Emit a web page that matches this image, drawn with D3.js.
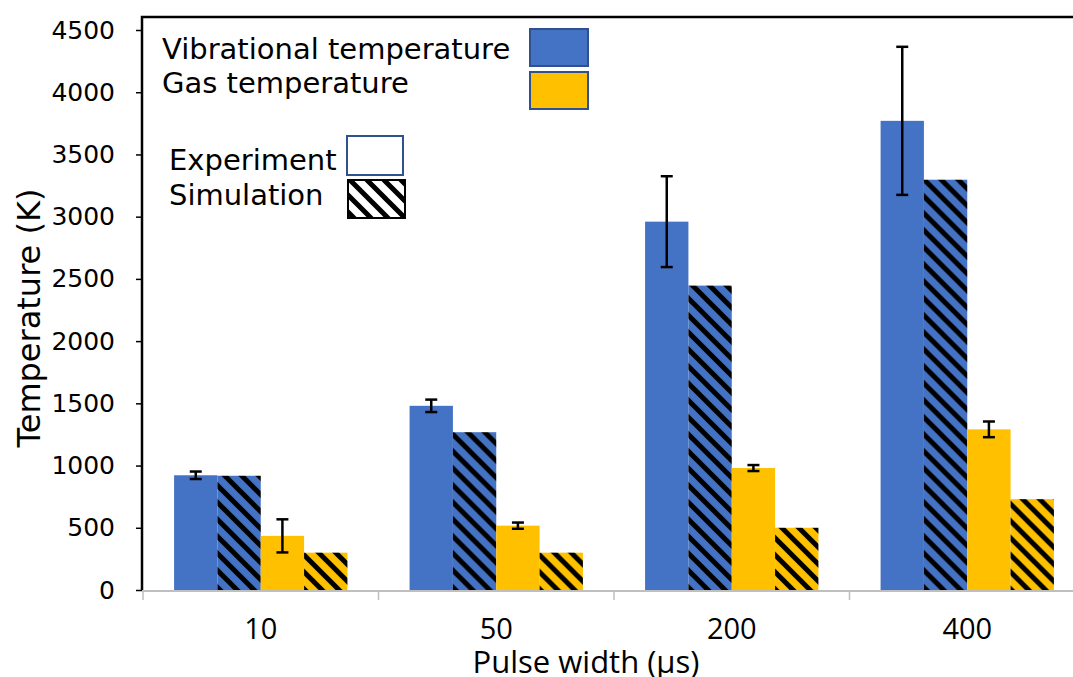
<!DOCTYPE html>
<html>
<head>
<meta charset="utf-8">
<script src="https://cdn.jsdelivr.net/npm/d3@7"></script>
<style>
  html, body { margin: 0; padding: 0; background: #fff; }
  svg { display: block; }
</style>
</head>
<body>
<svg id="chart" width="1073" height="677"></svg>
<script>
// Pulse widths (µs) on the x axis
const categories = ["10", "50", "200", "400"];

// Temperatures (K)
const vibExp    = [922, 1480, 2960, 3770];
const vibExpErr = [30, 50, 365, 595];
const vibSim    = [918, 1268, 2446, 3297];
const gasExp    = [435, 517, 980, 1291];
const gasExpErr = [133, 25, 24, 63];
const gasSim    = [300, 300, 500, 730];

const yTicks = [0, 500, 1000, 1500, 2000, 2500, 3000, 3500, 4000, 4500];

const BLUE = "#4472C4";
const GOLD = "#FFC000";

const series = [
  { key: "vibExp", values: vibExp, err: vibExpErr, color: BLUE, hatched: false },
  { key: "vibSim", values: vibSim, err: null,      color: BLUE, hatched: true  },
  { key: "gasExp", values: gasExp, err: gasExpErr, color: GOLD, hatched: false },
  { key: "gasSim", values: gasSim, err: null,      color: GOLD, hatched: true  }
];

const svg = d3.select("#chart");

// Plot frame
const plotLeft = 142, plotTop = 17, plotBottom = 590, plotRight = 1085;

const x = d3.scaleBand()
  .domain(categories)
  .range([plotLeft + 1, plotRight])
  .paddingInner(0.264)
  .paddingOuter(0.132);

const xs = d3.scaleBand()
  .domain(series.map(s => s.key))
  .range([0, x.bandwidth()]);

const y = d3.scaleLinear().domain([0, 4500]).range([plotBottom, 30]);

// Diagonal hatch patterns
const defs = svg.append("defs");
function hatch(id, bg) {
  const p = defs.append("pattern")
    .attr("id", id)
    .attr("patternUnits", "userSpaceOnUse")
    .attr("width", 17).attr("height", 17);
  p.append("rect").attr("width", 17).attr("height", 17).attr("fill", bg);
  p.append("path")
    .attr("d", "M-3,-3L20,20M-3,14L3,20M14,-3L20,3")
    .attr("stroke", "#000")
    .attr("stroke-width", 5);
}
hatch("hatch-blue", BLUE);
hatch("hatch-gold", GOLD);
hatch("hatch-white", "#fff");

const fillFor = s => s.hatched
  ? (s.color === BLUE ? "url(#hatch-blue)" : "url(#hatch-gold)")
  : s.color;

// Bars
const groups = svg.append("g").selectAll("g")
  .data(categories)
  .join("g")
  .attr("transform", c => `translate(${x(c)},0)`);

groups.selectAll("rect")
  .data((c, i) => series.map(s => ({ s, v: s.values[i] })))
  .join("rect")
  .attr("x", d => xs(d.s.key))
  .attr("y", d => y(d.v))
  .attr("width", xs.bandwidth())
  .attr("height", d => y(0) - y(d.v))
  .attr("fill", d => fillFor(d.s));

// Error bars on measured values
const errData = [];
series.filter(s => s.err).forEach(s => {
  categories.forEach((c, i) => {
    errData.push({ cx: x(c) + xs(s.key) + xs.bandwidth() / 2, v: s.values[i], e: s.err[i] });
  });
});
const eb = svg.append("g").attr("stroke", "#000").attr("stroke-width", 2.5);
eb.selectAll("line.v").data(errData).join("line")
  .attr("x1", d => d.cx).attr("x2", d => d.cx)
  .attr("y1", d => y(d.v + d.e)).attr("y2", d => y(d.v - d.e));
eb.selectAll("line.t").data(errData).join("line")
  .attr("x1", d => d.cx - 6).attr("x2", d => d.cx + 6)
  .attr("y1", d => y(d.v + d.e)).attr("y2", d => y(d.v + d.e));
eb.selectAll("line.b").data(errData).join("line")
  .attr("x1", d => d.cx - 6).attr("x2", d => d.cx + 6)
  .attr("y1", d => y(d.v - d.e)).attr("y2", d => y(d.v - d.e));

// Category axis: gray baseline, boundary ticks, centered labels
const gap = (x.step() - x.bandwidth()) / 2;
svg.append("line")
  .attr("x1", plotLeft).attr("x2", 1073)
  .attr("y1", plotBottom + 1).attr("y2", plotBottom + 1)
  .attr("stroke", "#BFBFBF").attr("stroke-width", 2);
svg.append("g").selectAll("line")
  .data(categories)
  .join("line")
  .attr("x1", c => x(c) - gap).attr("x2", c => x(c) - gap)
  .attr("y1", plotBottom + 1).attr("y2", plotBottom + 10)
  .attr("stroke", "#BFBFBF").attr("stroke-width", 1.5);

const xAxis = svg.append("g")
  .attr("transform", `translate(0,${plotBottom})`)
  .call(d3.axisBottom(x).tickSize(0).tickPadding(28));
xAxis.select(".domain").remove();
xAxis.selectAll("text")
  .attr("font-family", "'Open Sans', sans-serif")
  .attr("font-size", 29)
  .attr("fill", "#000");

// Value axis
const yAxis = svg.append("g")
  .attr("transform", `translate(${plotLeft},0)`)
  .call(d3.axisLeft(y).tickValues(yTicks).tickSize(6).tickPadding(21).tickFormat(d3.format("d")));
yAxis.select(".domain").remove();
yAxis.selectAll("line").attr("stroke", "#000").attr("stroke-width", 1.5);
yAxis.selectAll("text")
  .attr("font-family", "'DejaVu Sans', Verdana, sans-serif")
  .attr("font-size", 25)
  .attr("fill", "#000");

// Frame lines (left and top)
svg.append("path")
  .attr("d", `M${plotLeft},${plotBottom}V${plotTop}H1073`)
  .attr("fill", "none")
  .attr("stroke", "#000")
  .attr("stroke-width", 2.5);

// Axis titles
svg.append("text")
  .attr("transform", "translate(40,318) rotate(-90)")
  .attr("text-anchor", "middle")
  .attr("font-family", "'DejaVu Sans', Verdana, sans-serif")
  .attr("font-size", 32)
  .text("Temperature (K)");

svg.append("text")
  .attr("x", 586).attr("y", 673)
  .attr("text-anchor", "middle")
  .attr("font-family", "'Open Sans', sans-serif")
  .attr("font-size", 31)
  .text("Pulse width (µs)");

// Legend
const legendFont = "'DejaVu Sans', Verdana, sans-serif";
const lg = svg.append("g").attr("font-family", legendFont).attr("font-size", 29).attr("fill", "#000");
lg.append("text").attr("x", 162).attr("y", 59).text("Vibrational temperature");
lg.append("text").attr("x", 162).attr("y", 93).text("Gas temperature");
lg.append("text").attr("x", 169).attr("y", 170).text("Experiment");
lg.append("text").attr("x", 169).attr("y", 205).text("Simulation");

svg.append("rect").attr("x", 530).attr("y", 29).attr("width", 58).attr("height", 37)
  .attr("fill", BLUE).attr("stroke", "#2F528F").attr("stroke-width", 2);
svg.append("rect").attr("x", 530).attr("y", 72).attr("width", 58).attr("height", 37)
  .attr("fill", GOLD).attr("stroke", "#2F528F").attr("stroke-width", 2);
svg.append("rect").attr("x", 347).attr("y", 136).attr("width", 56).attr("height", 39)
  .attr("fill", "#fff").attr("stroke", "#2F528F").attr("stroke-width", 2);
svg.append("rect").attr("x", 348).attr("y", 180).attr("width", 57).attr("height", 38)
  .attr("fill", "url(#hatch-white)").attr("stroke", "#000").attr("stroke-width", 2);
</script>
</body>
</html>
